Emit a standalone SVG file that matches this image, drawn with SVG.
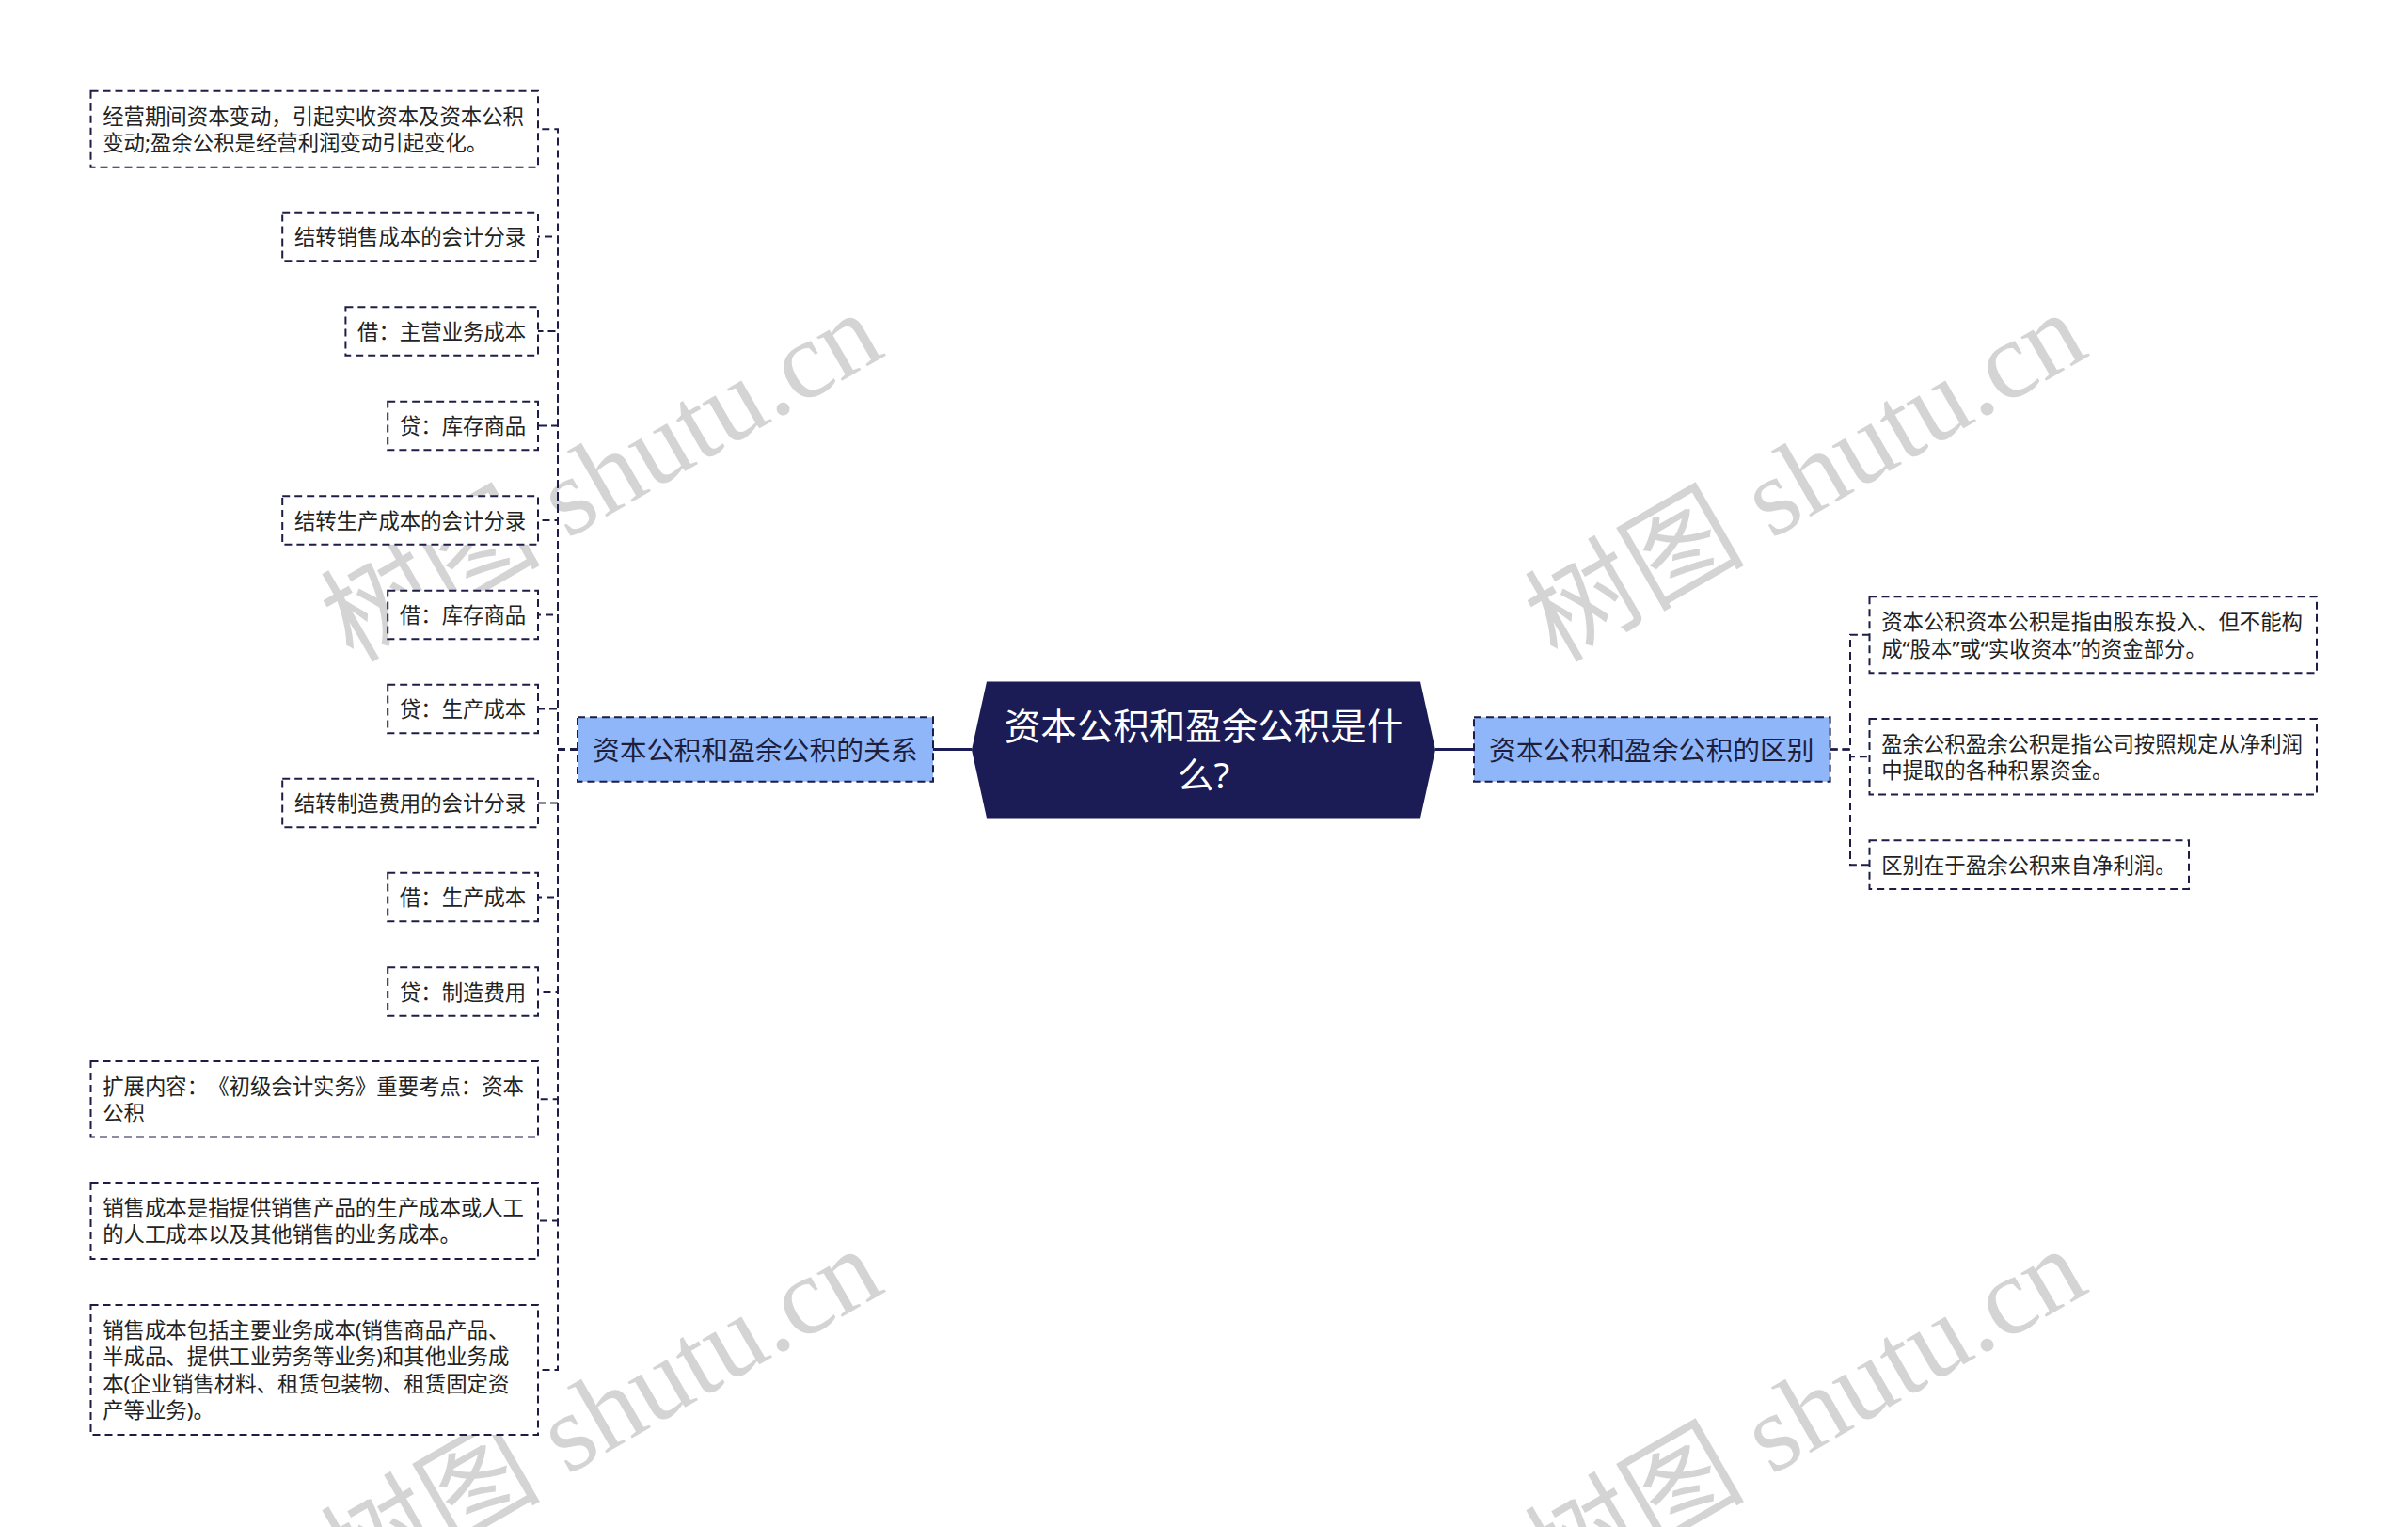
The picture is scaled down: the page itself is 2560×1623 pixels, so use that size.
<svg xmlns="http://www.w3.org/2000/svg" width="2560" height="1623" viewBox="0 0 2560 1623">
<style>
.bg{fill:#ffffff}
.box{fill:#ffffff;stroke:#1d1d47;stroke-width:2;stroke-dasharray:8 5}
.branch{fill:#8fb6f9;stroke:#1d1d47;stroke-width:2;stroke-dasharray:8 5}
text{text-spacing-trim:space-all}
.txt{font-family:"Noto Sans","Noto Sans CJK SC",sans-serif;font-size:22.4px;fill:#222222}
.btxt{font-family:"Noto Sans","Noto Sans CJK SC",sans-serif;font-size:28.8px;fill:#1e1e3c}
.ctxt{font-family:"Noto Sans","Noto Sans CJK SC",sans-serif;font-size:38.5px;fill:#ffffff;text-anchor:middle}
.link{fill:none;stroke:#1d1d47;stroke-width:2;stroke-dasharray:8 5}
.main{fill:none;stroke:#1b1b55;stroke-width:3}
.wm{font-family:"Liberation Serif","Noto Sans CJK SC",serif;font-size:117px;fill:#d4d4d4}
</style>
<rect class="bg" x="0" y="0" width="2560" height="1623"/>

<g id="watermarks">
<text class="wm" transform="translate(375,705) rotate(-30)">树图 shutu.cn</text>
<text class="wm" transform="translate(1655,705) rotate(-30)">树图 shutu.cn</text>
<text class="wm" transform="translate(375,1700) rotate(-30)">树图 shutu.cn</text>
<text class="wm" transform="translate(1655,1700) rotate(-30)">树图 shutu.cn</text>
</g>

<g id="connectors">
<path class="main" d="M992,796.5 H1033"/>
<path class="main" d="M1526,796.5 H1567"/>
<path class="link" d="M614,796.5 H593 V137.2 H572"/>
<path class="link" d="M614,796.5 H593 V251.5 H572"/>
<path class="link" d="M614,796.5 H593 V352 H572"/>
<path class="link" d="M614,796.5 H593 V452.5 H572"/>
<path class="link" d="M614,796.5 H593 V553 H572"/>
<path class="link" d="M614,796.5 H593 V653.5 H572"/>
<path class="link" d="M614,796.5 H593 V753.5 H572"/>
<path class="link" d="M614,796.5 H593 V853.5 H572"/>
<path class="link" d="M614,796.5 H593 V953.5 H572"/>
<path class="link" d="M614,796.5 H593 V1054 H572"/>
<path class="link" d="M614,796.5 H593 V1168.2 H572"/>
<path class="link" d="M614,796.5 H593 V1297.5 H572"/>
<path class="link" d="M614,796.5 H593 V1456 H572"/>
<path class="link" d="M1945.6,796.5 H1967 V674.8 H1987.5"/>
<path class="link" d="M1945.6,796.5 H1967 V804.2 H1987.5"/>
<path class="link" d="M1945.6,796.5 H1967 V919.2 H1987.5"/>
</g>

<g id="center">
<polygon points="1049,724.5 1510,724.5 1526,797 1510,869.5 1049,869.5 1033,797" fill="#1b1b55"/>
<text class="ctxt" x="1279.5" y="785.6">资本公积和盈余公积是什</text>
<text class="ctxt" x="1279.5" y="838">么?</text>
</g>

<g id="branch-left">
<rect class="branch" x="614" y="762.3" width="378" height="68.4"/>
<text class="btxt" x="630" y="808">资本公积和盈余公积的关系</text>
</g>
<g id="branch-right">
<rect class="branch" x="1567" y="762.3" width="378.6" height="68.4"/>
<text class="btxt" x="1583" y="808">资本公积和盈余公积的区别</text>
</g>

<g id="n1">
<rect class="box" x="96.5" y="96.7" width="475.5" height="81"/>
<text class="txt" x="109.2" y="131.5">经营期间资本变动，引起实收资本及资本公积</text>
<text class="txt" x="109.2" y="159.9">变动;盈余公积是经营利润变动引起变化。</text>
</g>
<g id="n2">
<rect class="box" x="300.2" y="225.7" width="271.8" height="51.6"/>
<text class="txt" x="312.9" y="260">结转销售成本的会计分录</text>
</g>
<g id="n3">
<rect class="box" x="367.4" y="326.2" width="204.6" height="51.6"/>
<text class="txt" x="380.1" y="360.5">借：主营业务成本</text>
</g>
<g id="n4">
<rect class="box" x="412.2" y="426.7" width="159.8" height="51.6"/>
<text class="txt" x="424.9" y="461">贷：库存商品</text>
</g>
<g id="n5">
<rect class="box" x="300.2" y="527.2" width="271.8" height="51.6"/>
<text class="txt" x="312.9" y="561.5">结转生产成本的会计分录</text>
</g>
<g id="n6">
<rect class="box" x="412.2" y="627.7" width="159.8" height="51.6"/>
<text class="txt" x="424.9" y="662">借：库存商品</text>
</g>
<g id="n7">
<rect class="box" x="412.2" y="727.7" width="159.8" height="51.6"/>
<text class="txt" x="424.9" y="762">贷：生产成本</text>
</g>
<g id="n8">
<rect class="box" x="300.2" y="827.7" width="271.8" height="51.6"/>
<text class="txt" x="312.9" y="862">结转制造费用的会计分录</text>
</g>
<g id="n9">
<rect class="box" x="412.2" y="927.7" width="159.8" height="51.6"/>
<text class="txt" x="424.9" y="962">借：生产成本</text>
</g>
<g id="n10">
<rect class="box" x="412.2" y="1028.2" width="159.8" height="51.6"/>
<text class="txt" x="424.9" y="1062.5">贷：制造费用</text>
</g>
<g id="n11">
<rect class="box" x="96.5" y="1128" width="475.5" height="80.5"/>
<text class="txt" x="109.2" y="1162.8">扩展内容：《初级会计实务》重要考点：资本</text>
<text class="txt" x="109.2" y="1191.2">公积</text>
</g>
<g id="n12">
<rect class="box" x="96.5" y="1257" width="475.5" height="81"/>
<text class="txt" x="109.2" y="1291.8">销售成本是指提供销售产品的生产成本或人工</text>
<text class="txt" x="109.2" y="1320.2">的人工成本以及其他销售的业务成本。</text>
</g>
<g id="n13">
<rect class="box" x="96.5" y="1387" width="475.5" height="138"/>
<text class="txt" x="109.2" y="1421.8">销售成本包括主要业务成本(销售商品产品、</text>
<text class="txt" x="109.2" y="1450.2">半成品、提供工业劳务等业务)和其他业务成</text>
<text class="txt" x="109.2" y="1478.6">本(企业销售材料、租赁包装物、租赁固定资</text>
<text class="txt" x="109.2" y="1507">产等业务)。</text>
</g>

<g id="r1">
<rect class="box" x="1987.5" y="634.3" width="475.5" height="81"/>
<text class="txt" x="2000.2" y="669.1">资本公积资本公积是指由股东投入、但不能构</text>
<text class="txt" x="2000.2" y="697.5">成“股本”或“实收资本”的资金部分。</text>
</g>
<g id="r2">
<rect class="box" x="1987.5" y="764" width="475.5" height="80.5"/>
<text class="txt" x="2000.2" y="798.8">盈余公积盈余公积是指公司按照规定从净利润</text>
<text class="txt" x="2000.2" y="827.2">中提取的各种积累资金。</text>
</g>
<g id="r3">
<rect class="box" x="1987.5" y="893.3" width="339.5" height="51.7"/>
<text class="txt" x="2000.2" y="927.7">区别在于盈余公积来自净利润。</text>
</g>
</svg>
